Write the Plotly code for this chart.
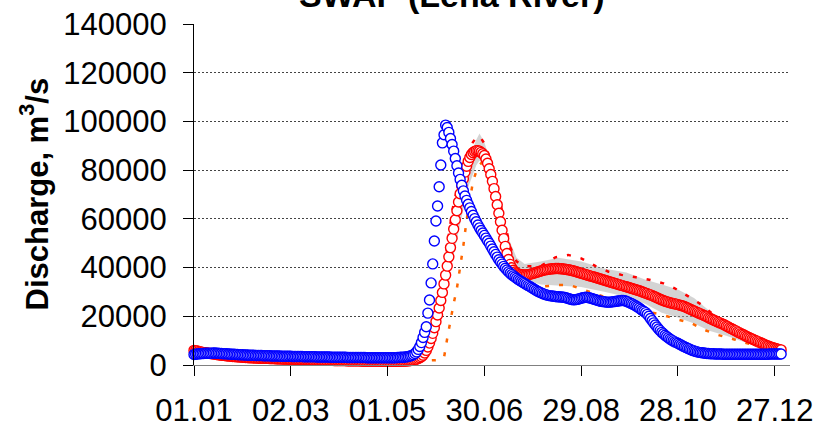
import plotly.graph_objects as go

# ---------------- data (daily discharge, m3/s; day 0 = 01.01) ----------------
blue_obs = [
    4300, 4400, 4500, 4600, 4600, 4700, 4700, 4800, 4800, 4800,
    4800, 4800, 4900, 4900, 4800, 4800, 4700, 4700, 4600, 4600,
    4600, 4500, 4500, 4400, 4400, 4400, 4300, 4300, 4200, 4200,
    4200, 4100, 4100, 4100, 4000, 4000, 4000, 4000, 3900, 3900,
    3900, 3900, 3900, 3800, 3800, 3800, 3800, 3800, 3700, 3700,
    3700, 3700, 3700, 3700, 3600, 3600, 3600, 3600, 3600, 3600,
    3600, 3500, 3500, 3500, 3500, 3500, 3500, 3500, 3400, 3400,
    3400, 3400, 3400, 3400, 3400, 3400, 3300, 3300, 3300, 3300,
    3300, 3300, 3300, 3300, 3300, 3200, 3200, 3200, 3200, 3200,
    3200, 3200, 3200, 3200, 3200, 3100, 3100, 3100, 3100, 3100,
    3100, 3100, 3100, 3100, 3100, 3100, 3100, 3000, 3000, 3000,
    3000, 3000, 3000, 3000, 3000, 3000, 3000, 3000, 3000, 3000,
    3000, 3000, 3000, 3000, 3000, 3000, 3100, 3100, 3200, 3200,
    3200, 3300, 3400, 3500, 3700, 3900, 4200, 4700, 5400, 6400,
    7600, 9200, 11300, 13400, 15700, 21300, 26700, 33700, 41500, 50900,
    59100, 65300, 73200, 82100, 91200, 94500, 98500, 97500, 95500, 93000,
    90500, 87800, 84800, 81800, 78800, 76200, 73800, 71500, 69400, 67600,
    66000, 64500, 63000, 61500, 60100, 58800, 57500, 56300, 55200, 54200,
    53200, 52100, 51000, 50000, 48800, 47600, 46500, 45400, 44300, 43200,
    42300, 41400, 40500, 39700, 39000, 38300, 37700, 37100, 36600, 36100,
    35600, 35100, 34700, 34300, 33900, 33500, 33100, 32700, 32300, 31900,
    31500, 31100, 30700, 30300, 30000, 29700, 29400, 29100, 28900, 28700,
    28500, 28400, 28300, 28200, 28100, 28000, 28000, 27900, 27900, 27800,
    27700, 27500, 27300, 27100, 26900, 26800, 26800, 26900, 27000, 27200,
    27400, 27600, 27700, 27800, 27700, 27600, 27400, 27200, 27000, 26800,
    26600, 26400, 26200, 26100, 26000, 25900, 25800, 25800, 25800, 25900,
    26000, 26100, 26200, 26300, 26400, 26500, 26500, 26400, 26200, 25900,
    25600, 25300, 25000, 24600, 24200, 23800, 23400, 22900, 22400, 22000,
    21500, 20800, 20000, 19100, 18200, 17300, 16400, 15600, 14800, 14100,
    13400, 12800, 12200, 11700, 11200, 10700, 10300, 9900, 9500, 9200,
    8900, 8500, 8200, 7800, 7500, 7200, 6900, 6600, 6300, 6000,
    5800, 5600, 5400, 5200, 5100, 5000, 4900, 4800, 4700, 4700,
    4600, 4600, 4600, 4500, 4500, 4500, 4500, 4500, 4400, 4400,
    4400, 4400, 4400, 4400, 4400, 4400, 4400, 4400, 4400, 4400,
    4400, 4400, 4400, 4400, 4400, 4400, 4400, 4400, 4400, 4400,
    4400, 4400, 4400, 4400, 4400, 4400, 4400, 4500, 4500, 4500,
    4500, 4500, 4500, 4500, 4500,
]

red_sim = [
    6000, 5900, 5800, 5600, 5400, 5300, 5100, 5000, 4900, 4800,
    4700, 4600, 4500, 4400, 4300, 4200, 4100, 4000, 4000, 3900,
    3800, 3700, 3700, 3600, 3500, 3500, 3400, 3400, 3300, 3300,
    3200, 3200, 3100, 3100, 3000, 3000, 3000, 2900, 2900, 2900,
    2800, 2800, 2800, 2700, 2700, 2700, 2700, 2600, 2600, 2600,
    2600, 2500, 2500, 2500, 2500, 2400, 2400, 2400, 2400, 2300,
    2300, 2300, 2300, 2300, 2200, 2200, 2200, 2200, 2200, 2100,
    2100, 2100, 2100, 2100, 2000, 2000, 2000, 2000, 2000, 2000,
    1900, 1900, 1900, 1900, 1900, 1900, 1900, 1800, 1800, 1800,
    1800, 1800, 1800, 1800, 1800, 1700, 1700, 1700, 1700, 1700,
    1700, 1700, 1700, 1700, 1600, 1600, 1600, 1600, 1600, 1600,
    1600, 1600, 1600, 1600, 1600, 1600, 1500, 1500, 1500, 1500,
    1500, 1500, 1500, 1500, 1500, 1500, 1500, 1500, 1600, 1600,
    1600, 1600, 1700, 1700, 1800, 1900, 2000, 2200, 2400, 2700,
    3000, 3400, 4000, 4900, 6000, 7400, 9000, 10900, 13000, 15300,
    17800, 20500, 23400, 26500, 29800, 33300, 36900, 40600, 44400, 48200,
    52000, 55800, 59600, 63300, 66900, 70300, 73500, 76500, 79200, 81600,
    83600, 85200, 86400, 87200, 87700, 88000, 88000, 87800, 87300, 86700,
    86000, 84600, 82800, 80600, 78200, 75400, 72400, 69200, 65800, 62300,
    58800, 55300, 51900, 48700, 45800, 43300, 41300, 39900, 38900, 38200,
    37700, 37400, 37200, 37100, 37000, 37000, 37000, 37100, 37200, 37400,
    37600, 37800, 38000, 38200, 38400, 38600, 38800, 39000, 39100, 39200,
    39300, 39400, 39500, 39500, 39600, 39600, 39600, 39500, 39500, 39400,
    39300, 39200, 39100, 39000, 38800, 38700, 38500, 38300, 38100, 37900,
    37700, 37500, 37300, 37100, 36900, 36700, 36500, 36300, 36100, 35900,
    35700, 35500, 35300, 35100, 34900, 34700, 34500, 34300, 34100, 33900,
    33700, 33500, 33300, 33100, 32900, 32700, 32500, 32300, 32100, 31900,
    31700, 31500, 31300, 31100, 30900, 30700, 30500, 30300, 30000, 29800,
    29500, 29300, 29000, 28800, 28500, 28200, 27900, 27600, 27300, 27000,
    26700, 26500, 26200, 26000, 25800, 25600, 25400, 25300, 25100, 25000,
    24800, 24600, 24400, 24200, 24000, 23700, 23400, 23100, 22800, 22500,
    22200, 21900, 21600, 21300, 21000, 20700, 20400, 20100, 19800, 19400,
    19100, 18800, 18500, 18200, 17900, 17600, 17300, 17000, 16700, 16400,
    16000, 15700, 15300, 15000, 14700, 14300, 14000, 13600, 13300, 12900,
    12600, 12300, 11900, 11600, 11300, 11000, 10700, 10400, 10100, 9800,
    9500, 9200, 8900, 8600, 8300, 8000, 7800, 7500, 7300, 7100,
    6900, 6700, 6500, 6300, 6200,
]

# ensemble spread (grey), read at selected days
gray_days = [0, 60, 120, 135, 140, 145, 150, 155, 160, 165, 170, 175, 177, 180, 185,
             190, 195, 200, 205, 215, 226, 240, 255, 268, 280, 290, 300, 310, 320, 330, 345, 364]
gray_hi = [6000, 2600, 1800, 2300, 3500, 9000, 21000, 37000, 55000, 70000, 84000, 92500, 95000, 91500, 81000,
           66000, 52000, 44000, 41500, 42500, 44000, 42500, 39500, 38000, 35000, 33000, 31000, 27500, 22000, 18000, 12500, 7000]
gray_lo = [4500, 2000, 1400, 1600, 2500, 6000, 15000, 28000, 42000, 58000, 73000, 82000, 84000, 82000, 70000,
           56000, 45000, 38000, 35000, 33000, 32500, 32000, 30000, 28000, 25000, 21500, 19500, 17000, 14000, 12000, 8500, 5000]

# upper bound (red dashed)
upper_days = [0, 30, 60, 90, 120, 135, 140, 145, 150, 153, 156, 158, 160, 162, 165, 168, 171, 174, 177,
              180, 184, 188, 192, 196, 200, 205, 210, 216, 224, 232, 240, 249, 257, 265, 274, 283, 291,
              298, 307, 315, 323, 330, 340, 350, 364]
upper_vals = [6200, 3600, 2800, 2400, 2200, 2600, 3500, 8500, 19500, 29000, 44500, 55000, 63000, 69000, 77000,
              84000, 89600, 92500, 94000, 91000, 84000, 72000, 60000, 48500, 42500, 40500, 40500, 41000, 44200,
              45200, 43800, 40600, 38300, 37000, 36000, 34900, 33500, 31500, 28000, 24600, 20100, 17500, 13500,
              10200, 6500]

# lower bound (orange dashed)
lower_days = [0, 30, 60, 90, 120, 140, 150, 155, 157, 159, 161, 163, 165, 167, 169, 171, 173, 176, 179,
              182, 186, 190, 194, 198, 204, 210, 216, 225, 233, 241, 250, 260, 270, 280, 290, 299, 308,
              316, 325, 335, 345, 355, 364]
lower_vals = [4000, 2500, 2000, 1800, 1600, 1700, 2000, 3000, 11000, 19000, 25300, 31500, 39500, 49000,
              59500, 68500, 75500, 81400, 83500, 81500, 72000, 60000, 48000, 40000, 35000, 33000, 32200,
              32800, 32800, 31000, 29000, 27000, 24500, 22000, 20700, 18800, 17300, 14500, 12300, 10500,
              8500, 6500, 5200]

tick_days = [0, 60, 120, 180, 240, 300, 360]
tick_text = ["01.01", "02.03", "01.05", "30.06", "29.08", "28.10", "27.12"]
y_ticks = [0, 20000, 40000, 60000, 80000, 100000, 120000, 140000]

FONT = "Liberation Sans, Arial, sans-serif"

fig = go.Figure()

# grey ensemble band
fig.add_trace(go.Scatter(x=gray_days, y=gray_lo, mode="lines", line=dict(width=0, color="rgba(0,0,0,0)"),
                         showlegend=False, hoverinfo="skip"))
fig.add_trace(go.Scatter(x=gray_days, y=gray_hi, mode="lines", line=dict(width=0, color="rgba(0,0,0,0)"),
                         fill="tonexty", fillcolor="rgba(170,170,170,0.5)", showlegend=False, hoverinfo="skip"))

# bounds
fig.add_trace(go.Scatter(x=upper_days, y=upper_vals, mode="lines",
                         line=dict(color="#ff0000", width=2.5, dash="4px,10px"), showlegend=False))
fig.add_trace(go.Scatter(x=lower_days, y=lower_vals, mode="lines",
                         line=dict(color="#ff6600", width=2.5, dash="4px,10px"), showlegend=False))

days = list(range(len(red_sim)))
fig.add_trace(go.Scatter(x=days, y=red_sim, mode="markers", cliponaxis=False,
                         marker=dict(symbol="circle", size=10, color="white",
                                     line=dict(color="#ff0000", width=1.4)), showlegend=False))
days_b = list(range(len(blue_obs)))
fig.add_trace(go.Scatter(x=days_b, y=blue_obs, mode="markers", cliponaxis=False,
                         marker=dict(symbol="circle", size=10, color="white",
                                     line=dict(color="#0000ff", width=1.4)), showlegend=False))

fig.update_layout(
    width=821, height=427,
    margin=dict(l=194, r=31, t=24, b=62, autoexpand=False),
    paper_bgcolor="white", plot_bgcolor="white",
    font=dict(family=FONT, size=31, color="black"),
    showlegend=False,
    xaxis=dict(range=[0, 369.5], tickvals=tick_days, ticktext=tick_text, automargin=False,
               showgrid=False, zeroline=False, showline=True, linecolor="#808080", linewidth=1,
               ticks="outside", ticklen=10, tickcolor="#000000", tickwidth=1,
               tickfont=dict(size=31, family=FONT), ticklabelstandoff=8),
    yaxis=dict(range=[0, 140000], tickvals=y_ticks, tickformat="d", automargin=False,
               showgrid=True, gridcolor="#444444", griddash="2px,2px", gridwidth=1,
               zeroline=False, showline=True, linecolor="#000000", linewidth=1,
               ticks="outside", ticklen=10, tickcolor="#000000", tickwidth=1,
               tickfont=dict(size=31, family=FONT), ticklabelstandoff=10),
    annotations=[
        dict(text="<b>Discharge, m<sup>3</sup>/s</b>", xref="paper", yref="paper",
             x=(34 - 194) / 596, y=0.5, xanchor="center", yanchor="middle", textangle=-90,
             showarrow=False, font=dict(size=31, family=FONT, color="black")),
        dict(text="<b>SWAP (Lena River)</b>", xref="paper", yref="paper",
             x=(451.5 - 194) / 596, y=(365 - 16) / 341, xanchor="center", yanchor="bottom",
             showarrow=False, font=dict(size=34, family=FONT, color="black")),
    ],
)

fig.write_html("out.html")
